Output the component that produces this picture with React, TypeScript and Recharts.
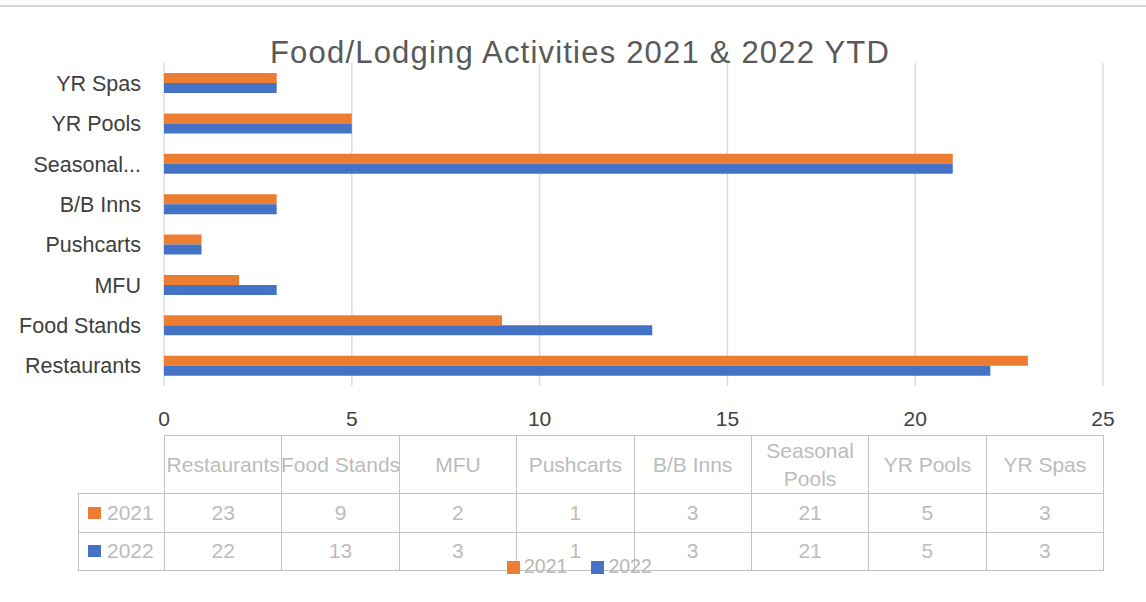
import React from 'react';
import { BarChart, Bar, XAxis, YAxis, CartesianGrid, Legend } from 'recharts';

const categories = ['Restaurants', 'Food Stands', 'MFU', 'Pushcarts', 'B/B Inns', 'Seasonal Pools', 'YR Pools', 'YR Spas'];
const values2021 = [23, 9, 2, 1, 3, 21, 5, 3];
const values2022 = [22, 13, 3, 1, 3, 21, 5, 3];
const seriesNames = ['2021', '2022'];
const seriesColors = ['#ED7D31', '#4472C4'];
const xTicks = [0, 5, 10, 15, 20, 25];
const title = 'Food/Lodging Activities 2021 & 2022 YTD';

const data = categories.map((c, i) => ({ category: c, s2021: values2021[i], s2022: values2022[i] }));
const seriesValues = [values2021, values2022];

const FONT = '"Liberation Sans", Arial, sans-serif';
const W = 1146;
const H = 602;
const PLOT_LEFT = 164;
const PLOT_RIGHT = 1103;
const PLOT_TOP = 63;
const PLOT_BOTTOM = 386;
const X_AXIS_H = 30;

const COL_W = (PLOT_RIGHT - PLOT_LEFT) / categories.length;
const TABLE_TOP = 435;
const HEADER_H = 58;
const ROW_H = 38.5;
const LEGEND_COL_LEFT = 78;
const LINE = '1.5px solid #c2c2c2';
const TABLE_TEXT = '#bcbcbc';

const truncate = (v: string) => (v.length > 13 ? v.split(' ')[0] + '...' : v);

function Cell(props: { left: number; top: number; width: number; height: number; children?: React.ReactNode; style?: React.CSSProperties }) {
  return (
    <div
      style={{
        position: 'absolute',
        left: props.left,
        top: props.top,
        width: props.width,
        height: props.height,
        boxSizing: 'border-box',
        border: LINE,
        display: 'flex',
        alignItems: 'center',
        justifyContent: 'center',
        textAlign: 'center',
        color: TABLE_TEXT,
        fontSize: 21,
        fontFamily: FONT,
        ...props.style,
      }}
    >
      {props.children}
    </div>
  );
}

function DataTable() {
  const cells: React.ReactNode[] = [];
  categories.forEach((c, i) => {
    const left = PLOT_LEFT + i * COL_W;
    const wrap = c.length > 13;
    cells.push(
      <Cell key={'h' + i} left={left} top={TABLE_TOP} width={COL_W + 1} height={HEADER_H + 1}
        style={{ whiteSpace: wrap ? 'normal' : 'nowrap', lineHeight: '28px', overflow: 'visible' }}>
        <span style={{ display: 'block', width: wrap ? 100 : 'auto' }}>{c}</span>
      </Cell>
    );
    seriesValues.forEach((vals, r) => {
      cells.push(
        <Cell key={'v' + r + '-' + i} left={left} top={TABLE_TOP + HEADER_H + r * ROW_H} width={COL_W + 1} height={ROW_H + 1}>
          {vals[i]}
        </Cell>
      );
    });
  });
  seriesNames.forEach((n, r) => {
    cells.push(
      <Cell key={'l' + r} left={LEGEND_COL_LEFT} top={TABLE_TOP + HEADER_H + r * ROW_H} width={PLOT_LEFT - LEGEND_COL_LEFT + 1} height={ROW_H + 1}
        style={{ justifyContent: 'flex-start', paddingLeft: 9 }}>
        <span style={{ display: 'inline-block', width: 13, height: 12, background: seriesColors[r], marginRight: 6 }} />
        <span>{n}</span>
      </Cell>
    );
  });
  return <>{cells}</>;
}

export default function App() {
  return (
    <div style={{ position: 'relative', width: W, height: H, background: '#fff', fontFamily: FONT, overflow: 'hidden' }}>
      <style>{'body{margin:0;background:#fff}'}</style>
      <div style={{ position: 'absolute', left: 0, top: 5, width: W, borderTop: '2px solid #d6d6d6' }} />
      <div
        style={{
          position: 'absolute',
          left: 0,
          top: 37,
          width: 1160,
          textAlign: 'center',
          fontSize: 31,
          lineHeight: '31px',
          color: '#595959',
          letterSpacing: 1.2,
          whiteSpace: 'nowrap',
          zIndex: 2,
        }}
      >
        {title}
      </div>
      <BarChart
        width={W}
        height={H}
        data={data}
        layout="vertical"
        barCategoryGap="25%"
        barGap={0}
        margin={{ top: PLOT_TOP, right: W - PLOT_RIGHT, bottom: H - PLOT_BOTTOM - X_AXIS_H, left: 0 }}
      >
        <CartesianGrid horizontal={false} stroke="#dcdcdc" strokeWidth={1.5} />
        <XAxis
          type="number"
          domain={[0, 25]}
          ticks={xTicks}
          height={X_AXIS_H}
          axisLine={false}
          tickLine={false}
          tickSize={23}
          tick={{ fill: '#404040', fontSize: 21, fontFamily: FONT }}
          interval={0}
        />
        <YAxis
          type="category"
          dataKey="category"
          reversed
          width={PLOT_LEFT}
          axisLine={false}
          tickLine={false}
          tickSize={21}
          tickFormatter={truncate}
          tick={{ fill: '#404040', fontSize: 21.5, fontFamily: FONT }}
          interval={0}
        />
        <Legend
          layout="horizontal"
          verticalAlign="middle"
          align="center"
          iconType="square"
          iconSize={13}
          wrapperStyle={{ left: 507, top: 555, width: 'auto', fontSize: 19.5, fontFamily: FONT, zIndex: 3 }}
          formatter={(value: string) => <span style={{ color: '#b8b8b8', paddingRight: 14 }}>{value}</span>}
        />
        <Bar dataKey="s2021" name={seriesNames[0]} fill={seriesColors[0]} isAnimationActive={false} />
        <Bar dataKey="s2022" name={seriesNames[1]} fill={seriesColors[1]} isAnimationActive={false} />
      </BarChart>
      <DataTable />
    </div>
  );
}
